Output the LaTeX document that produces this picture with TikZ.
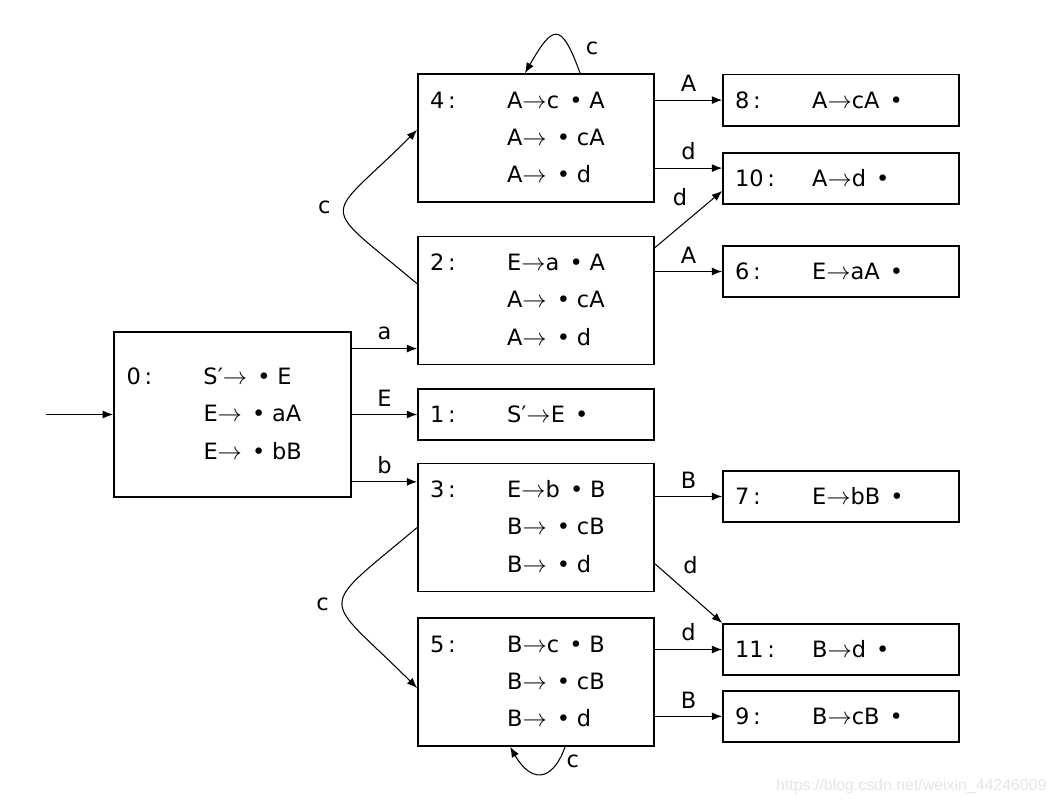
\documentclass[tikz,border=0pt]{standalone}
\usepackage{fontspec}
\setmainfont{DejaVu Sans}
\newfontfamily\wmfont{Liberation Sans}
\usepackage{tikz}
\usetikzlibrary{calc,automata,positioning,arrows.meta}
\tikzset{
initial text=, % no text on the start arrow
initial distance=1.675cm, % length of the start arrow
every initial by arrow/.style={line width=0.75pt},
}
\tikzset{
    lrbox/.style={draw, rectangle, line width=1.3pt, minimum width=5.9cm, text width=5.3cm, inner sep=0pt, align=left},
    bigset/.style={lrbox, minimum height=3.2cm},
    smallset/.style={lrbox, minimum height=1.28cm},
}
\newcommand{\ar}{\ensuremath{\rightarrow}}
\newcommand{\dotm}{\hspace{0.45em}•\hspace{0.3em}}
\newcommand{\lrno}[1]{\makebox[1.925cm][l]{#1}}
\newcommand{\lritems}[4]{\lrno{#1}\begin{tabular}[t]{@{}l@{}}#2\\#3\\#4\end{tabular}}
\begin{document}
\begin{tikzpicture}[node distance=3cm,on grid,auto,>={Latex[length=2.6mm,width=2mm]},line width=0.75pt,font=\fontsize{16}{26.5}\selectfont,every node/.style={inner sep=0.55em}]
    \useasboundingbox (0,0) rectangle (26.425,-20.125);
    \node[bigset, initial, minimum width=5.925cm, minimum height=4.125cm] (q_0) at (5.8125,-10.3625) {\lritems{0\,:}{S′\ar\dotm E}{E\ar\dotm aA}{E\ar\dotm bB}};
    \node[smallset] (q_1) [right=7.59cm of q_0] {\lrno{1\,:}S′\ar E\dotm};
    \node[bigset] (q_2) [above=2.85cm of q_1] {\lritems{2\,:}{E\ar a\dotm A}{A\ar\dotm cA}{A\ar\dotm d}};
    \node[bigset] (q_4) [above=4.06cm of q_2] {\lritems{4\,:}{A\ar c\dotm A}{A\ar\dotm cA}{A\ar\dotm d}};
    \node[bigset] (q_3) [below=2.825cm of q_1] {\lritems{3\,:}{E\ar b\dotm B}{B\ar\dotm cB}{B\ar\dotm d}};
    \node[bigset] (q_5) [below=3.86cm of q_3] {\lritems{5\,:}{B\ar c\dotm B}{B\ar\dotm cB}{B\ar\dotm d}};
    \node[smallset] (q_8) [above right=0.95cm and 7.625cm of q_4] {\lrno{8\,:}A\ar cA\dotm};
    \node[smallset] (q_10) [below right=1.01cm and 7.625cm of q_4] {\lrno{10\,:}A\ar d\dotm};
    \node[smallset] (q_6) [above right=0.725cm and 7.625cm of q_2] {\lrno{6\,:}E\ar aA\dotm};
    \node[smallset] (q_7) [above right=0.775cm and 7.625cm of q_3] {\lrno{7\,:}E\ar bB\dotm};
    \node[smallset] (q_11) [above right=0.81cm and 7.625cm of q_5] {\lrno{11\,:}B\ar d\dotm};
    \node[smallset] (q_9) [below right=0.86cm and 7.625cm of q_5] {\lrno{9\,:}B\ar cB\dotm};
    \node[anchor=east, inner sep=0pt, font=\wmfont\fontsize{11.3}{13}\selectfont, text=black!10] (wm) at (26.175,-19.65) {https://blog.csdn.net/weixin\_44246009};
    \path[->]
    (q_0.east |- q_2.202) edge node {a} (q_2.202)
    (q_0) edge node {E} (q_1)
    (q_0.east |- q_3.159) edge node {b} (q_3.159)
    (q_2.172) edge[out=140, in=225, looseness=2.2] node[pos=0.53, left=0.145cm] {c} (q_4.176)
    (q_3.west) edge[out=220, in=135, looseness=2.15] node[left=0.145cm] {c} (q_5.183)
    ([xshift=1.1cm]q_4.north) edge[out=110, in=60, looseness=2.6] node[pos=0.2, right=0.2cm] {c} ([xshift=-0.28cm]q_4.north)
    ([xshift=0.725cm]q_5.south) edge[out=250, in=300, looseness=1.86] node[pos=0.15, right] {c} ([xshift=-0.65cm]q_5.south)
    (q_4.east |- q_8.west) edge node {A} (q_8.west)
    (q_4.east |- q_10.175) edge node {d} (q_10.175)
    (q_2.24) edge node[pos=0.6] {d} (q_10.186)
    (q_2.east |- q_6.west) edge node {A} (q_6.west)
    (q_3.east |- q_7.west) edge node {B} (q_7.west)
    (q_3.343) edge node[pos=0.3] {d} (q_11.north west)
    (q_5.east |- q_11.west) edge node {d} (q_11.west)
    (q_5.east |- q_9.west) edge node {B} (q_9.west);
\end{tikzpicture}
\end{document}
